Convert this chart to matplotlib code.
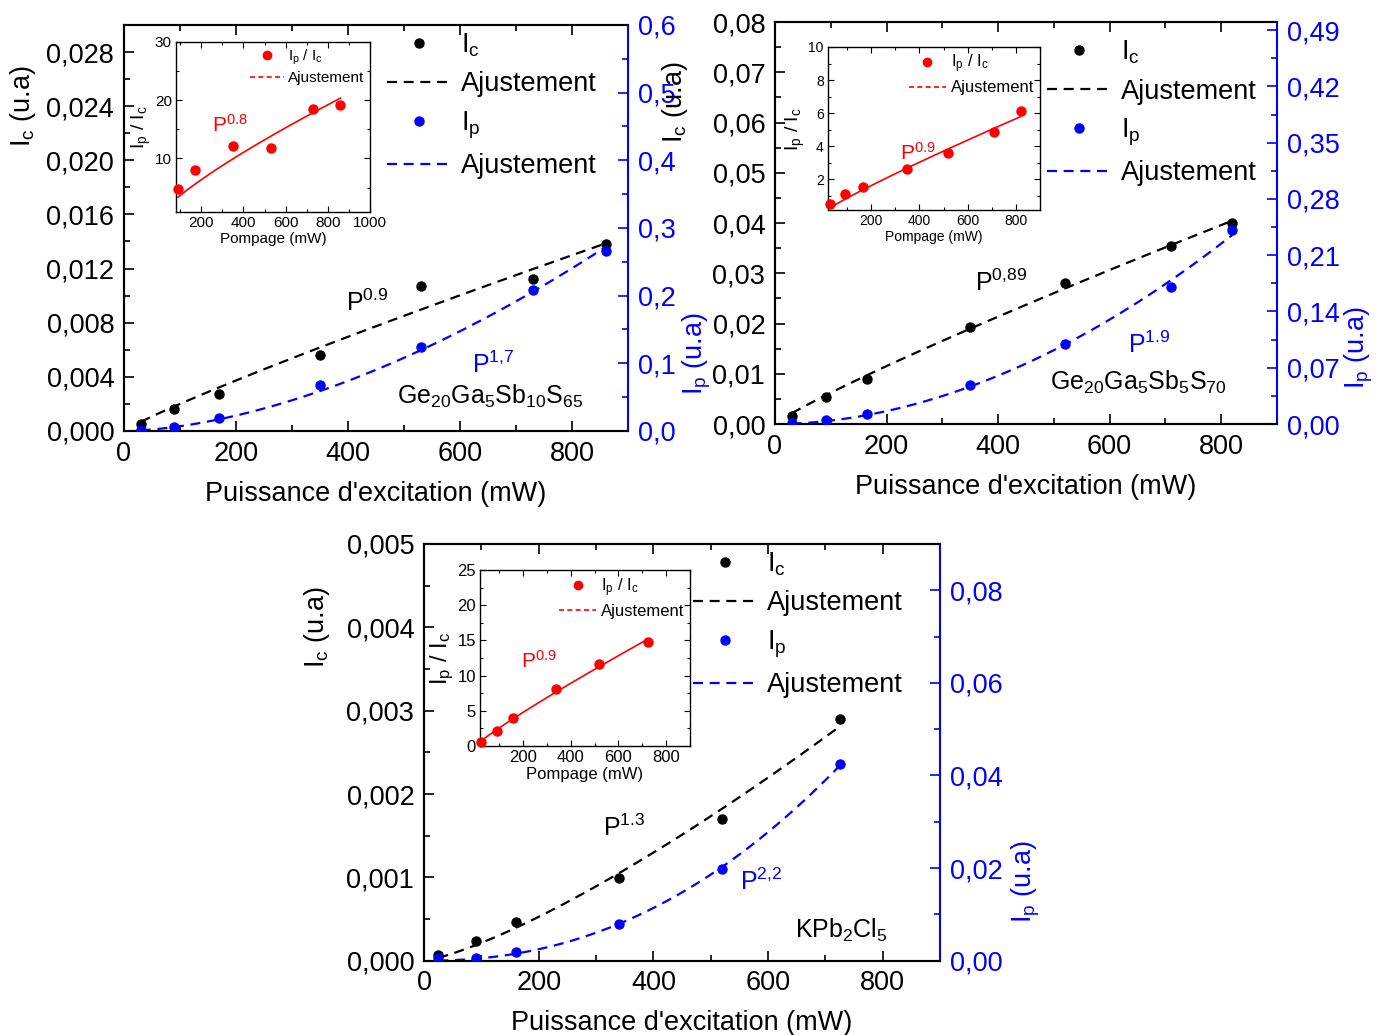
import numpy as np
import matplotlib
matplotlib.use('Agg')
import matplotlib.pyplot as plt
from matplotlib.ticker import MultipleLocator, FuncFormatter
from matplotlib.lines import Line2D

plt.rcParams['font.family'] = ['Liberation Sans', 'DejaVu Sans']
plt.rcParams['mathtext.fontset'] = 'custom'
plt.rcParams['mathtext.rm'] = 'Liberation Sans'
plt.rcParams['mathtext.it'] = 'Liberation Sans'
plt.rcParams['axes.linewidth'] = 1.5

# --- panel 1 : Ge20Ga5Sb10S65 ---
p1_power = [30, 90, 170, 350, 530, 730, 860]
p1_ic = [0.0005, 0.0016, 0.0027, 0.0056, 0.0107, 0.0112, 0.0138]
p1_ip = [0.0015, 0.006, 0.019, 0.068, 0.124, 0.208, 0.266]
p1_ratio_power = [90, 170, 350, 530, 730, 860]
p1_ratio = [4.7, 8.0, 12.2, 11.7, 18.5, 19.2]

# --- panel 2 : Ge20Ga5Sb5S70 ---
p2_power = [30, 92, 165, 350, 520, 710, 820]
p2_ic = [0.0016, 0.0053, 0.0089, 0.0194, 0.0281, 0.0354, 0.040]
p2_ip = [0.0012, 0.005, 0.012, 0.049, 0.099, 0.170, 0.2415]
p2_ratio = [0.54, 1.1, 1.55, 2.63, 3.58, 4.84, 6.12]

# --- panel 3 : KPb2Cl5 ---
p3_power = [25, 90, 160, 340, 520, 725]
p3_ic = [0.00007, 0.00024, 0.00046, 0.00099, 0.0017, 0.0029]
p3_ip = [0.0005, 0.00065, 0.0018, 0.0079, 0.0197, 0.0424]
p3_ratio = [0.6, 2.1, 4.0, 8.1, 11.6, 14.8]

FS = 19.5


def power_fit(x, y, k):
    x = np.asarray(x, float)
    y = np.asarray(y, float)
    a = np.sum(y * x**k) / np.sum(x**(2 * k))
    xs = np.linspace(x.min(), x.max(), 100)
    return xs, a * xs**k


def comma(nd):
    return FuncFormatter(lambda v, pos: f"{v:.{nd}f}".replace('.', ','))


def main_panel(rect, power, ic, ip, k_ic, k_ip, left, right, leg_xy,
               ylab_x, y2lab_x):
    ax = fig.add_axes(rect)
    ax2 = ax.twinx()

    ax.plot(power, ic, 'o', color='black', ms=6.5, zorder=3)
    xs, ys = power_fit(power, ic, k_ic)
    ax.plot(xs, ys, '--', color='black', lw=1.6, dashes=(4.5, 3))
    ax2.plot(power, ip, 'o', color='blue', ms=6.5, zorder=3)
    xs, ys = power_fit(power, ip, k_ip)
    ax2.plot(xs, ys, '--', color='blue', lw=1.6, dashes=(4.5, 3))

    ax.set_xlim(0, 900)
    ax.xaxis.set_major_locator(MultipleLocator(200))
    ax.xaxis.set_minor_locator(MultipleLocator(100))

    top, step, minor, nd, lim = left
    ax.set_ylim(0, lim)
    ax.set_yticks(np.round(np.arange(0, top + step / 2, step), 6))
    ax.yaxis.set_minor_locator(MultipleLocator(minor))
    ax.yaxis.set_major_formatter(comma(nd))

    top, step, minor, nd, lim = right
    ax2.set_ylim(0, lim)
    ax2.set_yticks(np.round(np.arange(0, top + step / 2, step), 6))
    ax2.yaxis.set_minor_locator(MultipleLocator(minor))
    ax2.yaxis.set_major_formatter(comma(nd))

    ax.spines['right'].set_visible(False)
    ax2.spines['right'].set_color('blue')
    ax2.spines['right'].set_linewidth(1.5)
    ax.tick_params(which='both', direction='in', top=True, right=False,
                   labelsize=FS, width=1.2, pad=7)
    ax.tick_params(which='major', length=7)
    ax.tick_params(which='minor', length=4)
    ax2.tick_params(which='both', direction='in', colors='blue',
                    labelsize=FS, width=1.2, pad=7)
    ax2.tick_params(which='major', length=7)
    ax2.tick_params(which='minor', length=4)

    ax.set_xlabel("Puissance d'excitation (mW)", fontsize=FS, labelpad=10)
    ax.set_ylabel("I$_c$ (u.a)", fontsize=FS)
    ax.yaxis.set_label_coords(ylab_x, 0.8)
    ax2.set_ylabel("I$_p$ (u.a)", fontsize=FS, color='blue')
    ax2.yaxis.set_label_coords(y2lab_x, 0.19)

    handles = [
        Line2D([], [], ls='none', marker='o', color='black', ms=6.5),
        Line2D([], [], ls='--', color='black', lw=1.6, dashes=(4.5, 3)),
        Line2D([], [], ls='none', marker='o', color='blue', ms=6.5),
        Line2D([], [], ls='--', color='blue', lw=1.6, dashes=(4.5, 3)),
    ]
    ax.legend(handles, ["I$_c$", "Ajustement", "I$_p$", "Ajustement"],
              loc='upper left', bbox_to_anchor=leg_xy, frameon=False,
              fontsize=FS, handlelength=2.4, handletextpad=0.35,
              labelspacing=0.45, borderaxespad=0)
    return ax, ax2


def inset(rect, power, ratio, k, xlim, ylim, xmajor, ymajor, ymin_minor,
          fs, leg_fs, ylab_fs):
    ins = fig.add_axes(rect)
    ins.plot(power, ratio, 'o', color='red', ms=6.5, zorder=3, clip_on=False)
    xs, ys = power_fit(power, ratio, k)
    ins.plot(xs, ys, '-', color='red', lw=1.2)
    ins.set_xlim(*xlim)
    ins.set_ylim(*ylim)
    ins.xaxis.set_major_locator(MultipleLocator(xmajor))
    ins.xaxis.set_minor_locator(MultipleLocator(xmajor / 2))
    ins.yaxis.set_major_locator(MultipleLocator(ymajor))
    ins.yaxis.set_minor_locator(MultipleLocator(ymin_minor))
    for s in ins.spines.values():
        s.set_linewidth(1.0)
    ins.tick_params(which='both', direction='in', top=True, right=True,
                    labelsize=fs, width=0.8, pad=3)
    ins.tick_params(which='major', length=4)
    ins.tick_params(which='minor', length=2)
    ins.set_xlabel("Pompage (mW)", fontsize=fs, labelpad=1)
    ins.set_ylabel("I$_p$ / I$_c$", fontsize=ylab_fs, labelpad=1)
    handles = [
        Line2D([], [], ls='none', marker='o', color='red', ms=6),
        Line2D([], [], ls='--', color='red', lw=1.2, dashes=(3, 2)),
    ]
    ins.legend(handles, ["I$_p$ / I$_c$", "Ajustement"], loc='upper right',
               frameon=False, fontsize=leg_fs, handlelength=2.2,
               handletextpad=0.3, labelspacing=0.3, borderaxespad=0.05,
               borderpad=0.3)
    return ins


fig = plt.figure(figsize=(13.79, 10.35), dpi=100)

# panel 1
ax, ax2 = main_panel([0.0899, 0.5836, 0.3655, 0.3923], p1_power, p1_ic, p1_ip,
                     0.9, 1.7, (0.028, 0.004, 0.002, 3, 0.030),
                     (0.6, 0.1, 0.05, 1, 0.6), (0.5, 1.01), -0.17, 1.104)
ax.text(0.44, 0.296, "P$^{0.9}$", transform=ax.transAxes, fontsize=18)
ax.text(0.69, 0.143, "P$^{1{,}7}$", transform=ax.transAxes, fontsize=18,
        color='blue')
ax.text(0.542, 0.066, "Ge$_{20}$Ga$_5$Sb$_{10}$S$_{65}$",
        transform=ax.transAxes, fontsize=18)
ins = inset([0.1276, 0.7952, 0.1407, 0.1643], p1_ratio_power, p1_ratio, 0.8,
            (80, 1000), (0.8, 30), 200, 10, 5, 11, 11, 14)
ins.text(0.186, 0.47, "P$^{0.8}$", transform=ins.transAxes, fontsize=15,
         color='red')

# panel 2
ax, ax2 = main_panel([0.562, 0.5903, 0.364, 0.3884], p2_power, p2_ic, p2_ip,
                     0.89, 1.9, (0.08, 0.01, 0.005, 2, 0.08),
                     (0.49, 0.07, 0.035, 2, 0.5), (0.52, 0.985), -0.17, 1.13)
ax.text(0.398, 0.331, "P$^{0{,}89}$", transform=ax.transAxes, fontsize=18)
ax.text(0.703, 0.177, "P$^{1.9}$", transform=ax.transAxes, fontsize=18,
        color='blue')
ax.text(0.548, 0.085, "Ge$_{20}$Ga$_5$Sb$_5$S$_{70}$",
        transform=ax.transAxes, fontsize=18)
ins = inset([0.6004, 0.7971, 0.1537, 0.1575], p2_power, p2_ratio, 0.9,
            (20, 900), (0.15, 10), 200, 2, 1, 10, 12, 14)
ins.text(0.34, 0.307, "P$^{0.9}$", transform=ins.transAxes, fontsize=15,
         color='red')

# panel 3
ax, ax2 = main_panel([0.3075, 0.0718, 0.3742, 0.4026], p3_power, p3_ic, p3_ip,
                     1.3, 2.2, (0.005, 0.001, 0.0005, 3, 0.005),
                     (0.08, 0.02, 0.01, 2, 0.09), (0.50, 1.01), -0.178, 1.134)
ax.text(0.347, 0.299, "P$^{1.3}$", transform=ax.transAxes, fontsize=18)
ax.text(0.612, 0.17, "P$^{2{,}2}$", transform=ax.transAxes, fontsize=18,
        color='blue')
ax.text(0.719, 0.0545, "KPb$_2$Cl$_5$", transform=ax.transAxes, fontsize=18)
ins = inset([0.3481, 0.2792, 0.1523, 0.1700], p3_power, p3_ratio, 0.9,
            (20, 900), (0, 25), 200, 5, 2.5, 12, 12, 17)
ins.text(0.195, 0.443, "P$^{0.9}$", transform=ins.transAxes, fontsize=15,
         color='red')

fig.savefig('out.png', dpi=100)
